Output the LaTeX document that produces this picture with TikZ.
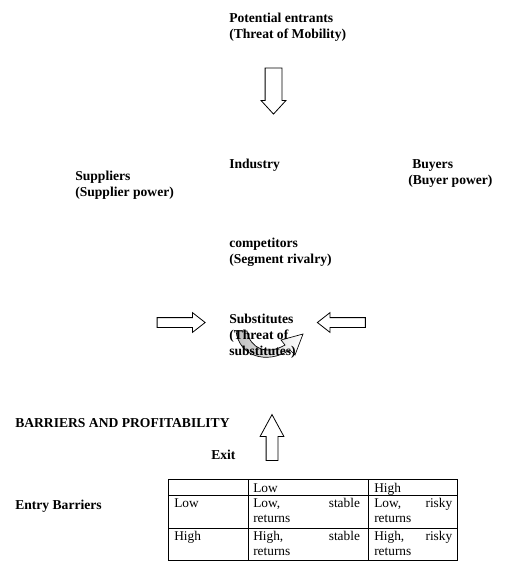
\documentclass[tikz,border=0pt]{standalone}
\usepackage{fontspec}
\setmainfont{Liberation Serif}
\usetikzlibrary{shapes.arrows, positioning}
\tikzset{
  forcelabel/.style={
    font=\bfseries\fontsize{10.2}{12}\selectfont, align=left,
    inner sep=0pt, anchor=north west
  },
  celltext/.style={
    font=\fontsize{10}{11.5}\selectfont, align=left,
    inner sep=0pt, anchor=north west, text width=#1
  },
  blockarrow/.style={
    shape=single arrow, draw, fill=white, line width=0.6pt,
    inner sep=0pt, single arrow head indent=0pt,
    text width=0pt, text depth=0pt
  },
  gridline/.style={line width=0.7pt},
}

\begin{document}
\begin{tikzpicture}[x=0.75pt, y=-0.75pt]
  \useasboundingbox (0,0) rectangle (532,572);

  % curved arrow over the substitutes (behind the text)
  \draw[line width=0.5pt, left color=gray!50, right color=white]
    (236,331) .. controls (239,356) and (266,365) .. (290,350)
    -- (295,355) -- (303,334) -- (281,340) -- (285,345)
    .. controls (266,356) and (250,348) .. (247,331) -- cycle;

  % --- Five forces labels ---
  \node[forcelabel] (entrants) at (229,13) {Potential entrants\\(Threat of Mobility)};
  \node[forcelabel] (industry) at (229,159) {Industry};
  \node[forcelabel] (suppliers) at (75,171) {Suppliers\\(Supplier power)};
  \node[forcelabel] (buyers) at (408,159) {\hspace{3pt}Buyers\\(Buyer power)};
  \node[forcelabel] (rivals) at (229,238) {competitors\\(Segment rivalry)};
  \node[forcelabel] (substitutes) at (229,314) {Substitutes\\(Threat of\\substitutes)};

  % --- Block arrows ---
  \node[blockarrow, rotate=-90, text height=12pt, minimum height=34.5pt,
    single arrow head extend=3pt, single arrow tip angle=85]
    (downarrow) at (273.5,86.5) {};
  \node[blockarrow, text height=6.75pt, minimum height=36pt,
    single arrow head extend=3.75pt, single arrow tip angle=76]
    (rightarrow) at (178,322.5) {};
  \node[blockarrow, rotate=180, text height=6.75pt, minimum height=36pt,
    single arrow head extend=3.75pt, single arrow tip angle=76]
    (leftarrow) at (344.5,322.5) {};
  \node[blockarrow, rotate=90, text height=8.25pt, minimum height=34.5pt,
    single arrow head extend=4.5pt, single arrow tip angle=57]
    (uparrow) at (272,443) {};

  % --- Barriers and profitability ---
  \node[forcelabel] (barriers) at (15,418) {BARRIERS AND PROFITABILITY};
  \node[forcelabel] (exit) at (211,450) {Exit};
  \node[forcelabel] (entry) at (15,500) {Entry Barriers};

  % table grid
  \draw[gridline] (168,479) rectangle (457,560);
  \draw[gridline] (168,495) -- (457,495);
  \draw[gridline] (168,528) -- (457,528);
  \draw[gridline] (248,479) -- (248,560);
  \draw[gridline] (368,479) -- (368,560);

  % table cells
  \node[celltext=60pt] (exitlow) at (253,483) {Low};
  \node[celltext=60pt] (exithigh) at (374,483) {High};
  \node[celltext=50pt] (entrylow) at (174,498) {Low};
  \node[celltext=50pt] (entryhigh) at (174,531) {High};
  \node[celltext=80pt] (lowlow) at (253,498) {Low,\hfill stable\\returns};
  \node[celltext=58.5pt] (lowhigh) at (374,498) {Low,\hfill risky\\returns};
  \node[celltext=80pt] (highlow) at (253,531) {High,\hfill stable\\returns};
  \node[celltext=58.5pt] (highhigh) at (374,531) {High,\hfill risky\\returns};
\end{tikzpicture}
\end{document}
